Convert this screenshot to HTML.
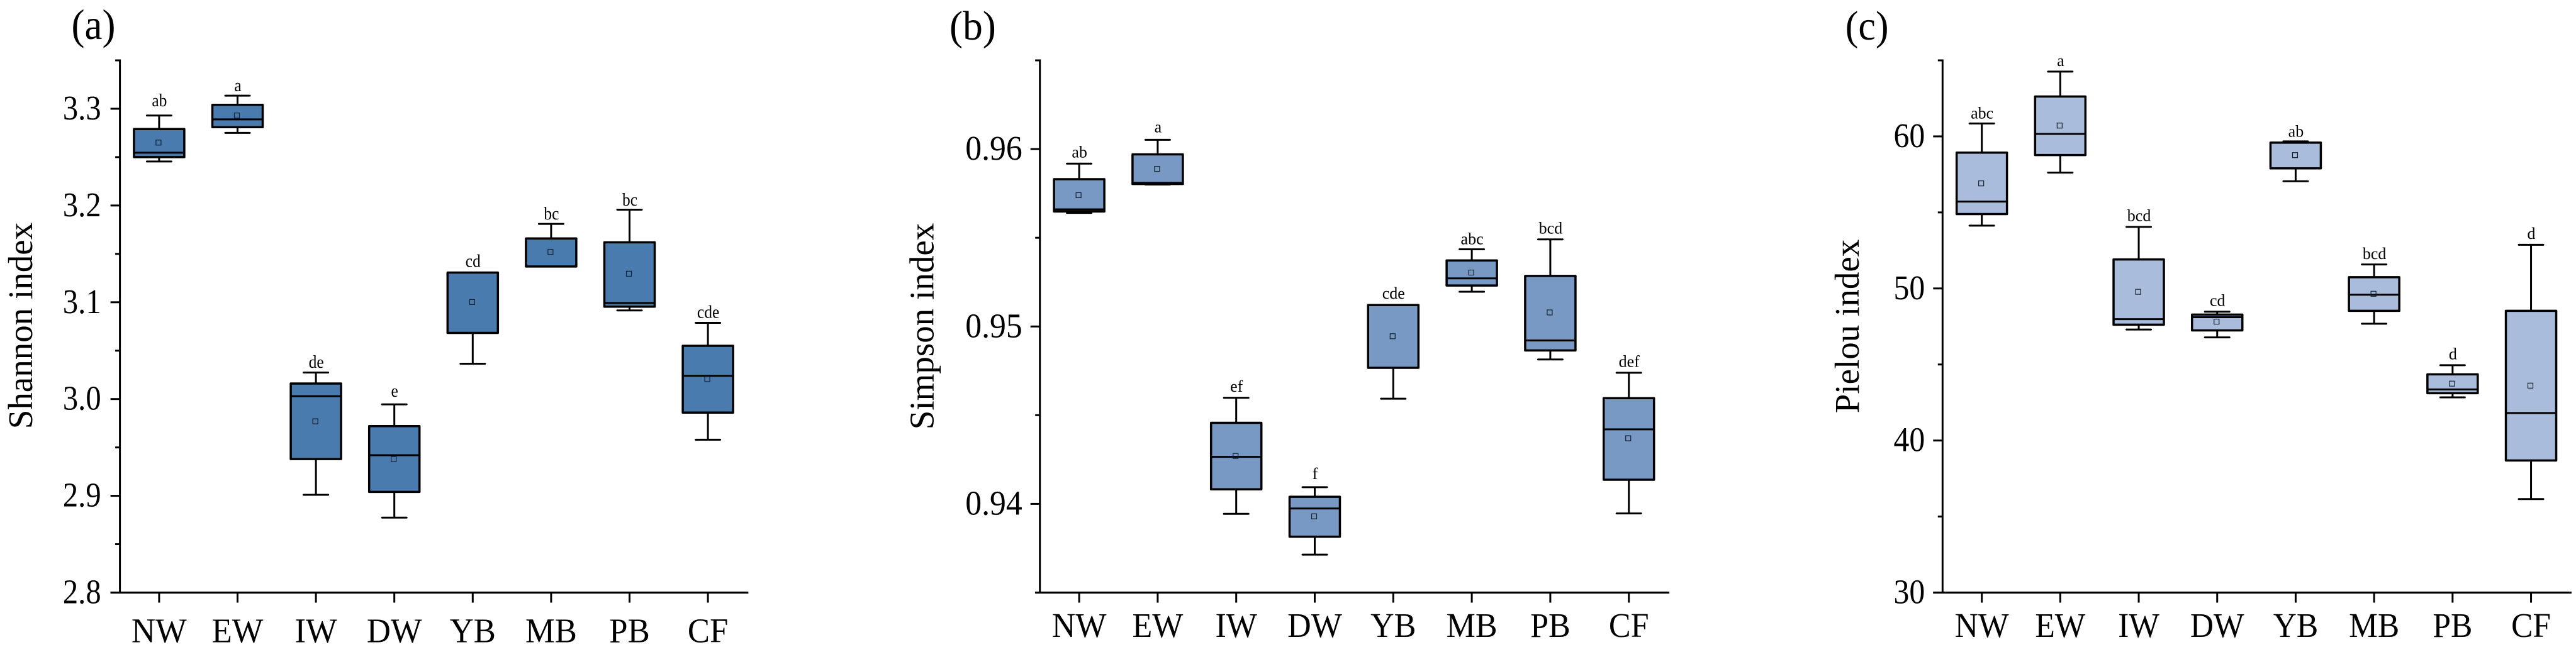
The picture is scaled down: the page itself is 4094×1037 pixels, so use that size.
<!DOCTYPE html>
<html lang="en">
<head>
<meta charset="utf-8">
<title>Shannon, Simpson and Pielou index box plots</title>
<style>
  html, body { margin: 0; padding: 0; background: #ffffff; }
  body { width: 4094px; height: 1037px; overflow: hidden; }
  svg { display: block; }
  text { font-family: "Liberation Serif", "Times New Roman", serif; fill: #000000; }
  .tick-label { font-size: 55px; }
  .axis-title { font-size: 55px; }
  .letter { text-anchor: middle; }
</style>
</head>
<body>
<svg id="figure" xmlns="http://www.w3.org/2000/svg" width="4094" height="1037" viewBox="0 0 4094 1037">
  <rect x="0" y="0" width="4094" height="1037" fill="#ffffff"/>
  <text font-size="68" transform="translate(113.5 62) scale(0.927 1)">(a)</text>
  <text font-size="66" transform="translate(1509 63) scale(0.96 1)">(b)</text>
  <text font-size="66" transform="translate(2932.7 63) scale(0.94 1)">(c)</text>
  <text class="axis-title" text-anchor="middle" transform="translate(51 518) rotate(-90)">Shannon index</text>
  <text class="axis-title" text-anchor="middle" transform="translate(1483.5 519) rotate(-90)">Simpson index</text>
  <text class="axis-title" text-anchor="middle" transform="translate(2954 519) rotate(-90)">Pielou index</text>
</svg>
<script>
// Shared categories
const categories = ['NW', 'EW', 'IW', 'DW', 'YB', 'MB', 'PB', 'CF'];

// Panel (a) Shannon index
const shannonTicks = ['2.8', '2.9', '3.0', '3.1', '3.2', '3.3'];
const shannonMinorTicks = [2.85, 2.95, 3.05, 3.15, 3.25, 3.35];
const shannonWhiskerHigh = [3.293, 3.3135, 3.0274, 2.9945, 3.1307, 3.181, 3.1957, 3.0787];
const shannonQ3 = [3.279, 3.304, 3.016, 2.972, 3.1307, 3.166, 3.162, 3.055];
const shannonMedian = [3.2546, 3.289, 3.003, 2.942, 3.1307, 3.137, 3.0993, 3.024];
const shannonQ1 = [3.25, 3.281, 2.938, 2.904, 3.0683, 3.137, 3.0955, 2.986];
const shannonWhiskerLow = [3.2455, 3.275, 2.901, 2.8775, 3.0365, 3.137, 3.0916, 2.958];
const shannonMean = [3.265, 3.293, 2.977, 2.938, 3.1002, 3.152, 3.1295, 3.0206];
const shannonLetters = ['ab', 'a', 'de', 'e', 'cd', 'bc', 'bc', 'cde'];
const shannonLetterLift = [0.0096, 0.0048, 0.005, 0.008, 0.006, 0.0047, 0.0043, 0.0052];

// Panel (b) Simpson index
const simpsonTicks = ['0.94', '0.95', '0.96'];
const simpsonMinorTicks = [0.935, 0.945, 0.955, 0.965];
const simpsonWhiskerHigh = [0.95918, 0.96052, 0.94598, 0.94094, 0.95121, 0.95435, 0.95491, 0.94739];
const simpsonQ3 = [0.9583, 0.9597, 0.94457, 0.9404, 0.95121, 0.95372, 0.95285, 0.94596];
const simpsonMedian = [0.9566, 0.9581, 0.94265, 0.93974, 0.95121, 0.95271, 0.94921, 0.9442];
const simpsonQ1 = [0.95648, 0.95803, 0.94082, 0.93815, 0.94767, 0.95231, 0.94865, 0.94136];
const simpsonWhiskerLow = [0.9564, 0.958, 0.93944, 0.93714, 0.94593, 0.95196, 0.94814, 0.93946];
const simpsonMean = [0.9574, 0.95888, 0.9427, 0.9393, 0.94945, 0.95304, 0.95079, 0.9437];
const simpsonLetters = ['ab', 'a', 'ef', 'f', 'cde', 'abc', 'bcd', 'def'];
const simpsonLetterLift = [0.00035, 0.00042, 0.00035, 0.00045, 0.00035, 0.00028, 0.00033, 0.00033];

// Panel (c) Pielou index
const pielouTicks = ['30', '40', '50', '60'];
const pielouMinorTicks = [35, 45, 55, 65];
const pielouWhiskerHigh = [60.85, 64.26, 54.05, 48.47, 59.67, 51.58, 44.95, 52.87];
const pielouQ3 = [58.93, 62.62, 51.91, 48.28, 59.59, 50.74, 44.35, 48.53];
const pielouMedian = [55.71, 60.16, 47.98, 48.11, 59.59, 49.59, 43.36, 41.81];
const pielouQ1 = [54.89, 58.77, 47.62, 47.24, 57.9, 48.53, 43.11, 38.69];
const pielouWhiskerLow = [54.13, 57.62, 47.3, 46.78, 57.05, 47.68, 42.84, 36.15];
const pielouMean = [56.91, 60.71, 49.78, 47.82, 58.77, 49.65, 43.74, 43.61];
const pielouLetters = ['abc', 'a', 'bcd', 'cd', 'ab', 'bcd', 'd', 'd'];
const pielouLetterLift = [0.33, 0.36, 0.38, 0.38, 0.30, 0.36, 0.38, 0.38];

const SVG_NS = 'http://www.w3.org/2000/svg';
const figure = document.getElementById('figure');
const PLOT_TOP = 96;
const PLOT_BOTTOM = 942.5;
const BOX_WIDTH = 80;
const CAP_WIDTH = 39;
const MEAN_SIZE = 8;
const LINE_WIDTH = 3;

function create(tag, parent) {
  const el = document.createElementNS(SVG_NS, tag);
  parent.appendChild(el);
  return el;
}

function drawLine(parent, x1, y1, x2, y2, width) {
  const el = create('line', parent);
  el.setAttribute('x1', x1);
  el.setAttribute('y1', y1);
  el.setAttribute('x2', x2);
  el.setAttribute('y2', y2);
  el.setAttribute('stroke', '#000000');
  el.setAttribute('stroke-width', width);
  return el;
}

function drawPanel(p) {
  const yOf = v => PLOT_BOTTOM - (v - p.min) / (p.max - p.min) * (PLOT_BOTTOM - PLOT_TOP);
  const xOf = i => p.left + p.step * (i + 0.5);
  const right = p.left + p.step * categories.length + 2;

  const group = create('g', figure);
  
  

  const yAxis = drawLine(group, p.left, PLOT_TOP - 1.5, p.left, PLOT_BOTTOM + 1.5, LINE_WIDTH);
  
  

  const xAxis = drawLine(group, p.left - (p.bottomMajor ? 15 : 7.5), PLOT_BOTTOM, right, PLOT_BOTTOM, LINE_WIDTH + 0.3);
  
  

  p.ticks.forEach(label => {
    const y = yOf(parseFloat(label));
    const tick = drawLine(group, p.left - 15, y, p.left, y, LINE_WIDTH);
    
    
    const text = create('text', group);
    
    
    text.setAttribute('class', 'tick-label');
    text.setAttribute('text-anchor', 'end');
    text.setAttribute('transform', 'translate(' + (p.left - p.labelGap) + ' ' + (y + 17) + ') scale(' + p.yLabelScale + ' 1)');
    text.textContent = label;
  });

  p.minorTicks.forEach(value => {
    const y = yOf(value);
    const tick = drawLine(group, p.left - 7.5, y, p.left, y, LINE_WIDTH);
    
    
  });

  categories.forEach((name, i) => {
    const x = xOf(i);
    const tick = drawLine(group, x, PLOT_BOTTOM, x, PLOT_BOTTOM + 16, LINE_WIDTH);
    
    

    const label = create('text', group);
    
    
    label.setAttribute('class', 'tick-label');
    label.setAttribute('text-anchor', 'middle');
    label.setAttribute('transform', 'translate(' + x + ' ' + p.xLabelBaseline + ') scale(' + p.xLabelScale + ' 1)');
    label.textContent = name;

    const q3 = yOf(p.q3[i]);
    const q1 = yOf(p.q1[i]);
    const high = yOf(p.whiskerHigh[i]);
    const low = yOf(p.whiskerLow[i]);
    const median = yOf(p.median[i]);
    const mean = yOf(p.mean[i]);

    const upper = drawLine(group, x, high, x, q3, LINE_WIDTH);
    
    

    const lower = drawLine(group, x, q1, x, low, LINE_WIDTH);
    
    

    const capHigh = drawLine(group, x - CAP_WIDTH / 2, high, x + CAP_WIDTH / 2, high, LINE_WIDTH);
    
    
    capHigh.setAttribute('stroke-linecap', 'round');

    const capLow = drawLine(group, x - CAP_WIDTH / 2, low, x + CAP_WIDTH / 2, low, LINE_WIDTH);
    
    
    capLow.setAttribute('stroke-linecap', 'round');

    const box = create('rect', group);
    
    
    box.setAttribute('x', x - BOX_WIDTH / 2);
    box.setAttribute('y', q3);
    box.setAttribute('width', BOX_WIDTH);
    box.setAttribute('height', Math.max(q1 - q3, 0));
    box.setAttribute('fill', p.color);
    box.setAttribute('stroke', '#000000');
    box.setAttribute('stroke-width', LINE_WIDTH + 0.5);
    box.setAttribute('stroke-linejoin', 'round');

    const medianLine = drawLine(group, x - BOX_WIDTH / 2, median, x + BOX_WIDTH / 2, median, LINE_WIDTH);
    
    

    const meanMark = create('rect', group);
    
    
    meanMark.setAttribute('x', x - 1 - MEAN_SIZE / 2);
    meanMark.setAttribute('y', mean - MEAN_SIZE / 2);
    meanMark.setAttribute('width', MEAN_SIZE);
    meanMark.setAttribute('height', MEAN_SIZE);
    meanMark.setAttribute('fill', 'none');
    meanMark.setAttribute('stroke', '#14202e');
    meanMark.setAttribute('stroke-width', 1.2);

    const letter = create('text', group);
    
    
    letter.setAttribute('class', 'letter');
    letter.setAttribute('font-size', p.letterSize);
    letter.setAttribute('transform', 'translate(' + (x + 0.5) + ' ' + yOf(p.whiskerHigh[i] + p.lift[i]) + ') scale(' + p.letterScale + ' 1)');
    letter.textContent = p.letters[i];
  });
}

drawPanel({
  id: 'shannon', left: 190.6, step: 124.6, min: 2.8, max: 3.35, color: '#4a7baf', bottomMajor: true,
  labelGap: 30, yLabelScale: 0.883, xLabelScale: 0.957, xLabelBaseline: 1021.7, letterSize: 28, letterScale: 0.91,
  ticks: shannonTicks, minorTicks: shannonMinorTicks,
  whiskerHigh: shannonWhiskerHigh, q3: shannonQ3, median: shannonMedian, q1: shannonQ1,
  whiskerLow: shannonWhiskerLow, mean: shannonMean, letters: shannonLetters, lift: shannonLetterLift
});
drawPanel({
  id: 'simpson', left: 1652.7, step: 124.8, min: 0.935, max: 0.965, color: '#7899c4', bottomMajor: false,
  labelGap: 28, yLabelScale: 0.94, xLabelScale: 0.946, xLabelBaseline: 1013, letterSize: 26, letterScale: 1,
  ticks: simpsonTicks, minorTicks: simpsonMinorTicks,
  whiskerHigh: simpsonWhiskerHigh, q3: simpsonQ3, median: simpsonMedian, q1: simpsonQ1,
  whiskerLow: simpsonWhiskerLow, mean: simpsonMean, letters: simpsonLetters, lift: simpsonLetterLift
});
drawPanel({
  id: 'pielou', left: 3087.3, step: 124.7, min: 30, max: 65, color: '#a9bcdb', bottomMajor: true,
  labelGap: 28, yLabelScale: 0.905, xLabelScale: 0.936, xLabelBaseline: 1013, letterSize: 26, letterScale: 1,
  ticks: pielouTicks, minorTicks: pielouMinorTicks,
  whiskerHigh: pielouWhiskerHigh, q3: pielouQ3, median: pielouMedian, q1: pielouQ1,
  whiskerLow: pielouWhiskerLow, mean: pielouMean, letters: pielouLetters, lift: pielouLetterLift
});
</script>
</body>
</html>
